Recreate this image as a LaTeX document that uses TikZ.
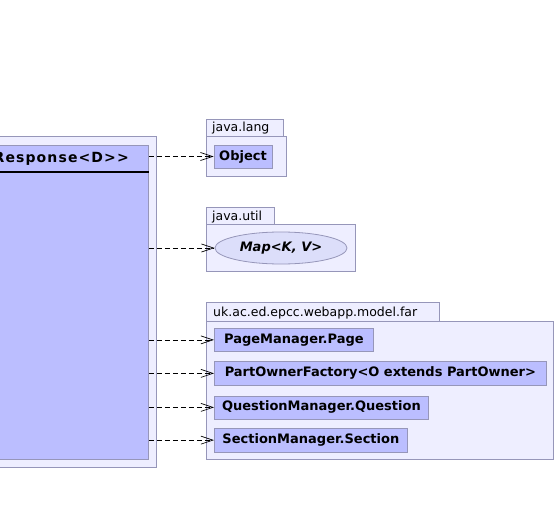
\documentclass[tikz,border=0pt]{standalone}
\usepackage{fontspec}
\setmainfont{DejaVu Sans}
\usetikzlibrary{arrows.meta,shapes.geometric}
\definecolor{pkgfill}{RGB}{238,238,255}
\definecolor{clsfill}{RGB}{187,190,255}
\definecolor{ellfill}{RGB}{220,222,250}
\definecolor{edgec}{RGB}{150,150,185}
\tikzset{
  pkgbody/.style={draw=edgec, fill=pkgfill, line width=0.8pt, inner sep=0pt, anchor=north west},
  pkgtab/.style={draw=edgec, fill=pkgfill, line width=0.8pt, inner sep=0pt, anchor=north west, text depth=0pt},
  tablabel/.style={anchor=base west, inner sep=0pt, font=\fontsize{12.5}{14}\selectfont},
  clsbox/.style={draw=edgec, fill=clsfill, line width=0.8pt, inner sep=0pt, font=\fontsize{13}{15}\selectfont\bfseries},
  ellbox/.style={ellipse, draw=edgec, fill=ellfill, line width=0.8pt, inner sep=0pt, font=\fontsize{13}{15}\selectfont\bfseries\itshape},
  dep/.style={draw=black, line width=0.7pt, dash pattern=on 5pt off 3pt, -{Straight Barb[length=12pt,width=8pt,line width=0.7pt]}}
}
\begin{document}
\begin{tikzpicture}[x=1pt,y=-1pt]
\useasboundingbox (0,0) rectangle (556,505);
\clip (0,0) rectangle (556,505);
% main package and class
\node[pkgbody, minimum width=176pt, minimum height=331pt] (mainpkg) at (-20,136) {};
\node[clsbox, anchor=north west, minimum width=160pt, minimum height=314pt] (cls) at (-12,145) {};
\draw[black, line width=2pt] (cls.west |- 0,172) -- (cls.east |- 0,172);
\node[anchor=base east, inner sep=0pt, font=\fontsize{14}{16}\selectfont\bfseries\addfontfeature{LetterSpace=8}] (clstitle) at (129,162.5) {Response<D>{}>};
% java.lang
\node[pkgtab, minimum width=77pt, minimum height=17pt] (langtab) at (206,119.5) {};
\node[pkgbody, minimum width=80pt, minimum height=40pt] (langpkg) at (206,136) {};
\node[tablabel] (langlbl) at (212,132) {java.lang};
\node[clsbox, minimum width=58pt, minimum height=23pt] (obj) at (243,156.5) {Object};
% java.util
\node[pkgtab, minimum width=68pt, minimum height=17pt] (utiltab) at (206,207) {};
\node[pkgbody, minimum width=149pt, minimum height=47pt] (utilpkg) at (206,224) {};
\node[tablabel] (utillbl) at (212,220) {java.util};
\node[ellbox, minimum width=132pt, minimum height=32pt] (map) at (281,248) {Map<K, V>};
% far package
\node[pkgtab, minimum width=233pt, minimum height=19pt] (fartab) at (206,302) {};
\node[pkgbody, minimum width=347pt, minimum height=138pt] (farpkg) at (206,320.5) {};
\node[tablabel] (farlbl) at (213,316) {uk.ac.ed.epcc.webapp.model.far};
\node[clsbox, anchor=north west, minimum width=159pt, minimum height=23pt] (page) at (214,328) {PageManager.Page};
\node[clsbox, anchor=north west, minimum width=332pt, minimum height=24pt] (pof) at (214,361) {PartOwnerFactory<O extends PartOwner>};
\node[clsbox, anchor=north west, minimum width=214pt, minimum height=23pt] (quest) at (214,395.5) {QuestionManager.Question};
\node[clsbox, anchor=north west, minimum width=193pt, minimum height=23.5pt] (sect) at (214,428) {SectionManager.Section};
% dependencies
\draw[dep] (cls.east |- obj.west) -- (obj.west);
\draw[dep] (cls.east |- map.west) -- (map.west);
\draw[dep] (cls.east |- page.west) -- (page.west);
\draw[dep] (cls.east |- pof.west) -- (pof.west);
\draw[dep] (cls.east |- quest.west) -- (quest.west);
\draw[dep] (cls.east |- sect.west) -- (sect.west);
\end{tikzpicture}
\end{document}
